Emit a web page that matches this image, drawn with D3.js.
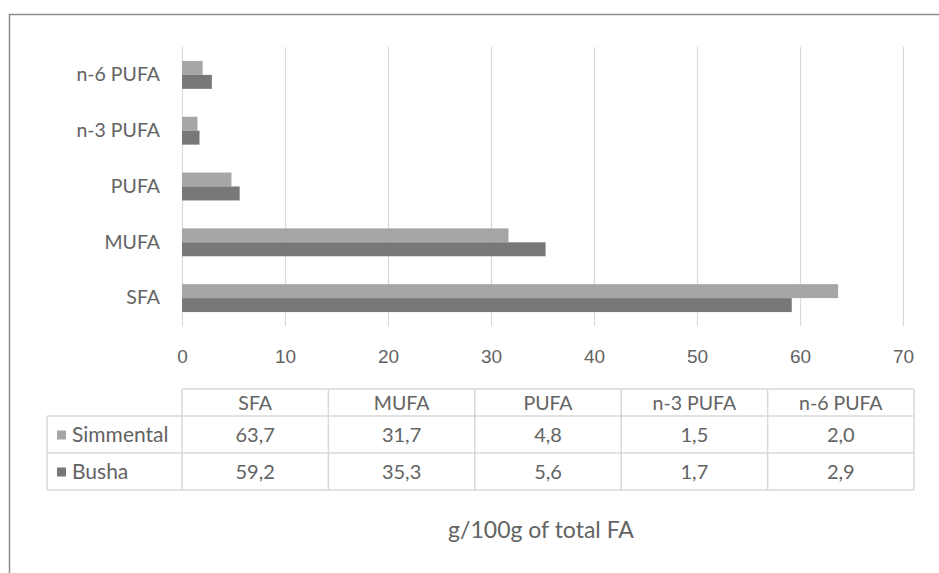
<!DOCTYPE html>
<html>
<head>
<meta charset="utf-8">
<script src="https://cdn.jsdelivr.net/npm/d3@7"></script>
<style>
  html, body { margin: 0; padding: 0; background: #fff; }
  svg { display: block; font-family: Lato, "Open Sans", sans-serif; }
</style>
</head>
<body>
<svg id="chart" width="939" height="573"></svg>
<script>
// Fatty acid groups, listed bottom-to-top as they appear on the axis
const categories = ["SFA", "MUFA", "PUFA", "n-3 PUFA", "n-6 PUFA"];
const seriesNames = ["Simmental", "Busha"];
const simmental = [63.7, 31.7, 4.8, 1.5, 2.0];
const busha = [59.2, 35.3, 5.6, 1.7, 2.9];
const xTicks = [0, 10, 20, 30, 40, 50, 60, 70];
const axisTitle = "g/100g of total FA";

const colors = { Simmental: "#a6a6a6", Busha: "#787878" };
const textColor = "#636363";
const gridColor = "#d9d9d9";

const svg = d3.select("#chart");

// outer chart frame (runs off the right and bottom edges)
svg.append("path")
  .attr("d", "M9.5,600 V14.5 H960")
  .attr("fill", "none")
  .attr("stroke", "#8c8c8c")
  .attr("stroke-width", 1.5);

const plot = { left: 182, right: 903, top: 47, bottom: 326 };

const x = d3.scaleLinear().domain([0, 70]).range([plot.left, plot.right]);
// categories run bottom-up, so reverse the band range
const y = d3.scaleBand().domain(categories).range([plot.bottom, plot.top]).paddingInner(0.5).paddingOuter(0.25);
const ySub = d3.scaleBand().domain(seriesNames).range([0, y.bandwidth()]);

// vertical gridlines
svg.append("g").selectAll("line").data(xTicks).join("line")
  .attr("x1", d => Math.round(x(d)) + 0.5)
  .attr("x2", d => Math.round(x(d)) + 0.5)
  .attr("y1", plot.top)
  .attr("y2", plot.bottom)
  .attr("stroke", gridColor)
  .attr("stroke-width", 1.2);

// x axis tick labels
const xAxis = d3.axisBottom(x).tickValues(xTicks).tickSize(0).tickPadding(0).tickFormat(d3.format("d"));
const gx = svg.append("g").attr("transform", `translate(0,${plot.bottom + 37})`).call(xAxis);
gx.select(".domain").remove();
gx.selectAll("text").attr("fill", textColor).attr("font-size", 19).attr("dy", 0).attr("y", 0);

// category labels
const yAxis = d3.axisLeft(y).tickSize(0).tickPadding(22);
const gy = svg.append("g").attr("transform", `translate(${plot.left},0)`).call(yAxis);
gy.select(".domain").remove();
gy.selectAll("text").attr("fill", textColor).attr("font-size", 19.5).attr("font-family", "Lato, sans-serif");

// bars
const rows = categories.map((c, i) => ({ cat: c, Simmental: simmental[i], Busha: busha[i] }));
const groups = svg.append("g").selectAll("g").data(rows).join("g")
  .attr("transform", d => `translate(0,${y(d.cat)})`);
groups.selectAll("rect")
  .data(d => seriesNames.map(s => ({ s, v: d[s] })))
  .join("rect")
  .attr("x", x(0))
  .attr("y", d => ySub(d.s))
  .attr("width", d => x(d.v) - x(0))
  .attr("height", ySub.bandwidth())
  .attr("fill", d => colors[d.s]);

// data table below the axis
const table = { left: 47, top: 389, headerH: 27, rowH: 37 };
const colX = d3.scaleBand().domain(categories).range([plot.left, 914]);
const fmt = v => d3.format(".1f")(v).replace(".", ",");
const tg = svg.append("g");
const lineStyle = sel => sel.attr("stroke", gridColor).attr("stroke-width", 1.5);

const tableBottom = table.top + table.headerH + 2 * table.rowH;
// horizontal rules
tg.append("line").attr("x1", plot.left).attr("x2", 914).attr("y1", table.top).attr("y2", table.top).call(lineStyle);
[table.top + table.headerH, table.top + table.headerH + table.rowH, tableBottom].forEach(yy => {
  tg.append("line").attr("x1", table.left).attr("x2", 914).attr("y1", yy).attr("y2", yy).call(lineStyle);
});
// vertical rules
tg.append("line").attr("x1", table.left).attr("x2", table.left).attr("y1", table.top + table.headerH).attr("y2", tableBottom).call(lineStyle);
categories.forEach(c => {
  tg.append("line").attr("x1", colX(c)).attr("x2", colX(c)).attr("y1", table.top).attr("y2", tableBottom).call(lineStyle);
});
tg.append("line").attr("x1", 914).attr("x2", 914).attr("y1", table.top).attr("y2", tableBottom).call(lineStyle);

// header cells
tg.selectAll("text.hdr").data(categories).join("text")
  .attr("class", "hdr")
  .attr("x", c => colX(c) + colX.bandwidth() / 2)
  .attr("y", table.top + table.headerH / 2 + 1)
  .attr("dy", "0.35em")
  .attr("text-anchor", "middle")
  .attr("font-size", 19.5)
  .attr("fill", textColor)
  .text(c => c);

// series rows with legend keys
const seriesValues = { Simmental: simmental, Busha: busha };
seriesNames.forEach((s, r) => {
  const cy = table.top + table.headerH + r * table.rowH + table.rowH / 2;
  tg.append("rect").attr("x", 57).attr("y", cy - 4).attr("width", 9).attr("height", 9).attr("fill", colors[s]);
  tg.append("text").attr("x", 72).attr("y", cy).attr("dy", "0.35em")
    .attr("font-size", 21).attr("fill", textColor).text(s);
  tg.selectAll(null).data(seriesValues[s]).join("text")
    .attr("x", (v, i) => colX(categories[i]) + colX.bandwidth() / 2)
    .attr("y", cy)
    .attr("dy", "0.35em")
    .attr("text-anchor", "middle")
    .attr("font-size", 20)
    .attr("fill", textColor)
    .text(fmt);
});

// axis title
svg.append("text")
  .attr("x", 541)
  .attr("y", 530)
  .attr("dy", "0.35em")
  .attr("text-anchor", "middle")
  .attr("font-size", 23)
  .attr("fill", textColor)
  .text(axisTitle);
</script>
</body>
</html>
